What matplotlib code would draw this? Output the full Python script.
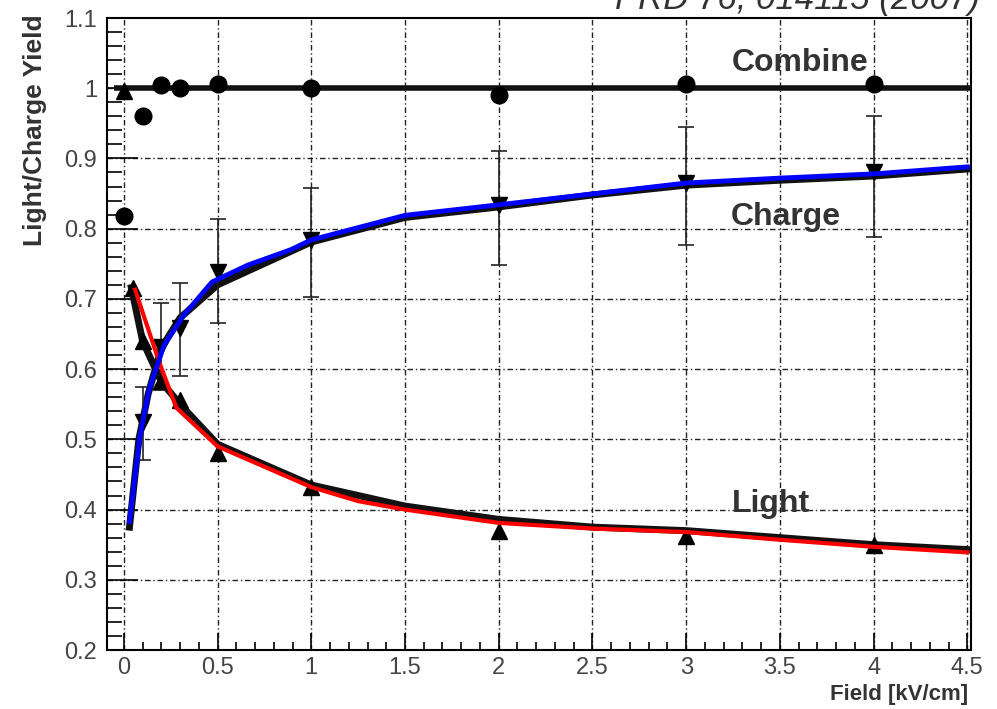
import numpy as np
import matplotlib.pyplot as plt
from matplotlib.ticker import MultipleLocator

plt.rcParams['font.family'] = ['Liberation Sans', 'DejaVu Sans']

# combined yield (circles)
comb_x = [0.0, 0.1, 0.2, 0.3, 0.5, 1.0, 2.0, 3.0, 4.0]
comb_y = [0.818, 0.960, 1.004, 1.000, 1.006, 1.000, 0.991, 1.006, 1.006]

# light yield (triangles up)
light_x = [0.0, 0.05, 0.1, 0.2, 0.3, 0.5, 1.0, 2.0, 3.0, 4.0]
light_y = [0.996, 0.715, 0.640, 0.583, 0.556, 0.481, 0.432, 0.369, 0.362, 0.350]

# charge yield (triangles down) with errors
chg_x = [0.1, 0.2, 0.3, 0.5, 1.0, 2.0, 3.0, 4.0]
chg_y = [0.525, 0.632, 0.659, 0.738, 0.784, 0.834, 0.865, 0.880]
chg_lo = [0.471, 0.570, 0.590, 0.666, 0.703, 0.748, 0.777, 0.788]
chg_hi = [0.575, 0.694, 0.723, 0.814, 0.858, 0.910, 0.945, 0.960]

# black model curves
bl_light_x = [0.04, 0.1, 0.2, 0.3, 0.5, 1.0, 1.5, 2.0, 2.5, 3.0, 3.5, 4.0, 4.5]
bl_light_y = [0.716, 0.640, 0.582, 0.550, 0.493, 0.435, 0.405, 0.386, 0.375, 0.370, 0.360, 0.350, 0.343]
bl_chg_x = [0.03, 0.08, 0.13, 0.2, 0.3, 0.5, 1.0, 1.5, 2.0, 2.5, 3.0, 3.5, 4.0, 4.5]
bl_chg_y = [0.375, 0.500, 0.565, 0.630, 0.673, 0.720, 0.781, 0.816, 0.831, 0.848, 0.862, 0.869, 0.875, 0.885]

# red (light) and blue (charge) curves
red_x = [0.06, 0.19, 0.28, 0.5, 0.75, 1.0, 1.25, 1.5, 2.0, 2.5, 3.0, 3.5, 4.0, 4.5]
red_y = [0.713, 0.609, 0.545, 0.490, 0.461, 0.432, 0.412, 0.400, 0.381, 0.373, 0.368, 0.357, 0.347, 0.339]
blue_x = [0.03, 0.086, 0.134, 0.214, 0.32, 0.47, 0.66, 0.89, 1.0, 1.5, 2.0, 3.0, 3.5, 4.0, 4.5]
blue_y = [0.383, 0.504, 0.570, 0.634, 0.677, 0.724, 0.748, 0.770, 0.784, 0.819, 0.834, 0.865, 0.872, 0.878, 0.888]

fig = plt.figure(figsize=(9.97, 7.09), dpi=100)
ax = fig.add_axes([0.1073, 0.0832, 0.974 - 0.1073, 0.9746 - 0.0832])

gstyle = (0, (4, 2, 1, 2))
for xv in np.arange(0, 4.51, 0.5):
    ax.axvline(xv, color='#222222', lw=1, ls=gstyle, zorder=1)
for yv in np.arange(0.3, 1.05, 0.1):
    ax.axhline(yv, color='#222222', lw=1, ls=gstyle, zorder=1)

ax.hlines(1.0, -0.05, 4.54, color='#111111', lw=4, zorder=3)
ax.plot(bl_light_x, bl_light_y, color='#111111', lw=5, zorder=3)
ax.plot(bl_chg_x, bl_chg_y, color='#111111', lw=5, zorder=3)

chg_err = [np.array(chg_y) - np.array(chg_lo), np.array(chg_hi) - np.array(chg_y)]
ax.errorbar(chg_x, chg_y, yerr=chg_err, fmt='v', color='black', ms=11,
            ecolor='#222222', elinewidth=1.2, capsize=6, capthick=1.2, zorder=4)
ax.plot(light_x, light_y, '^', color='black', ms=11, zorder=4)
ax.plot(comb_x, comb_y, 'o', color='black', ms=12, zorder=4)

ax.plot(red_x, red_y, color='#ff0000', lw=3, zorder=5)
ax.plot(blue_x, blue_y, color='#0000ff', lw=3.5, zorder=5)

ax.text(3.61, 1.036, 'Combine', fontsize=23, fontweight='bold', color='#333333',
        ha='center', va='center', zorder=6)
ax.text(3.53, 0.816, 'Charge', fontsize=23, fontweight='bold', color='#333333',
        ha='center', va='center', zorder=6)
ax.text(3.45, 0.408, 'Light', fontsize=23, fontweight='bold', color='#333333',
        ha='center', va='center', zorder=6)

ax.set_xlim(-0.09, 4.52)
ax.set_ylim(0.2, 1.1)
ax.xaxis.set_minor_locator(MultipleLocator(0.1))
ax.yaxis.set_minor_locator(MultipleLocator(0.02))
ax.set_xticks(np.arange(0, 4.51, 0.5))
ax.set_xticklabels(['0', '0.5', '1', '1.5', '2', '2.5', '3', '3.5', '4', '4.5'])
ax.set_yticks(np.arange(0.2, 1.11, 0.1))
ax.set_yticklabels(['0.2', '0.3', '0.4', '0.5', '0.6', '0.7', '0.8', '0.9', '1', '1.1'])

ax.tick_params(axis='x', which='major', direction='in', length=12, width=1.2,
               labelsize=17, labelcolor='#444444', pad=5, top=False)
ax.tick_params(axis='x', which='minor', direction='in', length=6, width=1.2, top=False)
ax.tick_params(axis='y', which='major', direction='in', length=22, width=1.2,
               labelsize=17, labelcolor='#444444', pad=7, right=False)
ax.tick_params(axis='y', which='minor', direction='in', length=11, width=1.2, right=False)
for s in ax.spines.values():
    s.set_linewidth(1.5)

fig.text(0.971, 0.02, 'Field [kV/cm]', fontsize=16, fontweight='bold', color='#333333',
         ha='right', va='center')
fig.text(0.035, 0.98, 'Light/Charge Yield', fontsize=19, fontweight='bold', color='#333333',
         rotation=90, ha='center', va='top')
fig.text(0.983, 1.0, 'PRD 76, 014115 (2007)', fontsize=25, style='italic', color='#333333',
         ha='right', va='center')

fig.savefig('out.png', dpi=100, facecolor='white')
